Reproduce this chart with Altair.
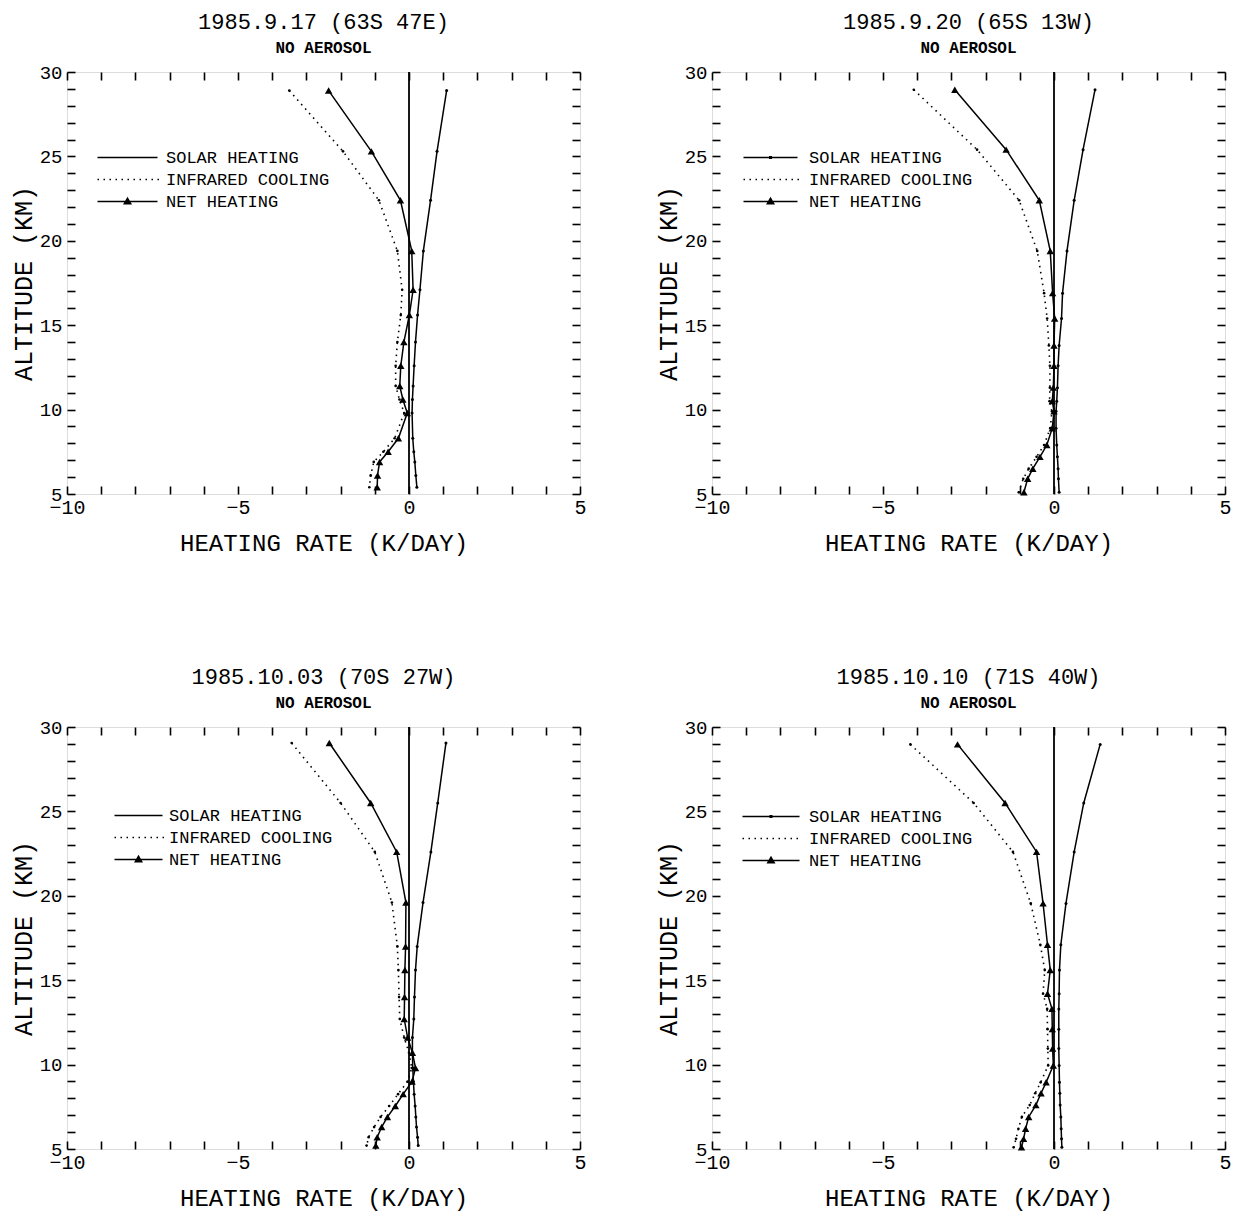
import altair as alt
import pandas as pd

FONT = "Liberation Mono"

titles = ["1985.9.17  (63S 47E)", "1985.9.20  (65S 13W)",
          "1985.10.03  (70S 27W)", "1985.10.10  (71S 40W)"]
subtitle = "NO AEROSOL"
series_names = ["SOLAR HEATING", "INFRARED COOLING", "NET HEATING"]
x_title = "HEATING RATE (K/DAY)"
y_title = "ALTITUDE  (KM)"
x_ticks = list(range(-10, 6))
y_ticks = list(range(5, 31))
zero_line = [0.0]

# Panel 1: 1985.9.17
alt1 = [28.9, 25.3, 22.4, 19.4, 17.1, 15.6, 14.0, 12.6, 11.4, 10.6, 9.8, 8.3, 7.5, 6.9, 6.1, 5.4]
solar1 = [1.10, 0.82, 0.63, 0.42, 0.32, 0.25, 0.19, 0.15, 0.12, 0.10, 0.09, 0.11, 0.14, 0.17, 0.20, 0.23]
ir1 = [-3.50, -1.93, -0.88, -0.34, -0.20, -0.24, -0.34, -0.39, -0.39, -0.28, -0.14, -0.42, -0.75, -1.03, -1.12, -1.16]
net1 = [-2.35, -1.10, -0.25, 0.08, 0.12, 0.01, -0.15, -0.24, -0.27, -0.18, -0.05, -0.31, -0.61, -0.86, -0.92, -0.93]

# Panel 2: 1985.9.20
alt2 = [28.95, 25.4, 22.4, 19.4, 16.9, 15.4, 13.8, 12.6, 11.3, 10.5, 9.9, 8.9, 7.9, 7.2, 6.5, 5.9, 5.1]
solar2 = [1.20, 0.85, 0.59, 0.38, 0.25, 0.22, 0.15, 0.12, 0.10, 0.08, 0.06, 0.06, 0.08, 0.10, 0.12, 0.13, 0.15]
ir2 = [-4.10, -2.25, -1.02, -0.49, -0.29, -0.20, -0.15, -0.12, -0.12, -0.13, -0.06, -0.11, -0.29, -0.51, -0.74, -0.90, -1.03]
net2 = [-2.90, -1.40, -0.43, -0.11, -0.04, 0.02, 0.00, 0.00, -0.02, -0.05, 0.00, -0.05, -0.21, -0.41, -0.62, -0.77, -0.88]

# Panel 3: 1985.10.03
alt3 = [29.05, 25.5, 22.6, 19.6, 17.0, 15.6, 14.0, 12.7, 11.6, 10.7, 9.8, 9.0, 8.25, 7.55, 6.9, 6.3, 5.7, 5.2]
solar3 = [1.08, 0.84, 0.64, 0.41, 0.24, 0.19, 0.16, 0.14, 0.10, 0.10, 0.11, 0.13, 0.15, 0.18, 0.20, 0.22, 0.25, 0.27]
ir3 = [-3.43, -2.00, -1.00, -0.50, -0.34, -0.31, -0.29, -0.27, -0.14, 0.00, 0.08, -0.04, -0.32, -0.58, -0.83, -1.02, -1.18, -1.24]
net3 = [-2.33, -1.12, -0.36, -0.09, -0.10, -0.12, -0.13, -0.14, -0.04, 0.10, 0.19, 0.09, -0.17, -0.40, -0.63, -0.80, -0.93, -0.97]

# Panel 4: 1985.10.10
alt4 = [28.97, 25.5, 22.6, 19.55, 17.1, 15.6, 14.2, 13.3, 12.1, 10.95, 9.95, 8.95, 8.3, 7.6, 6.9, 6.2, 5.6, 5.1]
solar4 = [1.35, 0.87, 0.59, 0.35, 0.20, 0.16, 0.15, 0.14, 0.14, 0.14, 0.15, 0.16, 0.17, 0.18, 0.20, 0.21, 0.22, 0.23]
ir4 = [-4.20, -2.35, -1.20, -0.68, -0.40, -0.27, -0.32, -0.20, -0.19, -0.18, -0.17, -0.39, -0.55, -0.71, -0.94, -1.04, -1.11, -1.18]
net4 = [-2.82, -1.43, -0.51, -0.32, -0.19, -0.11, -0.19, -0.06, -0.05, -0.04, -0.02, -0.23, -0.38, -0.53, -0.74, -0.83, -0.89, -0.95]

W, H = 513, 422


def legend_paths(length, dot):
    # legend keys as filled SVG symbol paths (unit = 3 px at symbolSize 36)
    line = f"M-1,-0.25H{length}V0.25H-1Z"
    mid = (length - 1) / 2
    solar = line + (f"M{mid-0.5},-0.5H{mid+0.5}V0.5H{mid-0.5}Z" if dot else "")
    dots = "".join(f"M{x:.2f},-0.25h0.5v0.5h-0.5Z"
                   for x in [(-1 + 2 * i) for i in range(int((length + 1) / 2) + 1)])
    net = line + f"M{mid-1.5},1L{mid},-1.6L{mid+1.5},1Z"
    return [solar, dots, net]


def panel(title, alts, solar, ir, net, lx, ly, length, dot, loff):
    df = pd.DataFrame({"idx": list(range(len(alts))), "alt": alts,
                       "solar": solar, "ir": ir, "net": net})
    xs = alt.Scale(domain=[-10, 5], nice=False, zero=False)
    ys = alt.Scale(domain=[5, 30], nice=False, zero=False)
    common = dict(offset=-8, tickSize=8, tickWidth=1.6, tickColor="black",
                  domain=False, grid=False)
    ax_bottom = alt.Axis(orient="bottom", values=x_ticks, format="d",
                         labelExpr="datum.value % 5 == 0 ? datum.label : ''",
                         title=x_title, labelFont=FONT, labelFontSize=20,
                         labelColor="black", labelPadding=3, labelOverlap=False,
                         labelFlush=False, titleFont=FONT, titleFontSize=24,
                         titleFontWeight="normal", titleColor="black",
                         titlePadding=14, **common)
    ax_top = alt.Axis(orient="top", values=x_ticks, labels=False, title=None, **common)
    ax_left = alt.Axis(orient="left", values=y_ticks, format="d",
                       labelExpr="datum.value % 5 == 0 ? datum.label : ''",
                       title=y_title, labelFont=FONT, labelFontSize=19,
                       labelColor="black", labelPadding=5, labelOverlap=False,
                       labelFlush=False, titleFont=FONT, titleFontSize=25,
                       titleFontWeight="normal", titleColor="black",
                       titlePadding=3, **common)
    ax_right = alt.Axis(orient="right", values=y_ticks, labels=False, title=None, **common)

    zero = alt.Chart(pd.DataFrame({"x": zero_line})).mark_rule(
        color="black", strokeWidth=1.8).encode(
        x=alt.X("x:Q", scale=xs, axis=ax_bottom))
    base = alt.Chart(df)
    solar_line = base.mark_line(color="black", strokeWidth=1.5).encode(
        x=alt.X("solar:Q", scale=xs, axis=ax_top),
        y=alt.Y("alt:Q", scale=ys, axis=ax_right), order="idx:Q")
    ir_line = base.mark_line(color="black", strokeWidth=1.6,
                             strokeDash=[1.5, 4.5]).encode(
        x=alt.X("ir:Q", scale=xs, axis=None),
        y=alt.Y("alt:Q", scale=ys, axis=None), order="idx:Q")
    net_line = base.mark_line(color="black", strokeWidth=1.5).encode(
        x=alt.X("net:Q", scale=xs, axis=None),
        y=alt.Y("alt:Q", scale=ys, axis=ax_left), order="idx:Q")
    solar_pts = base.mark_point(filled=True, color="black", size=9,
                                shape="circle", opacity=1).encode(
        x=alt.X("solar:Q", scale=xs, axis=None),
        y=alt.Y("alt:Q", scale=ys, axis=None))
    ir_pts = base.mark_point(filled=True, color="black", size=7,
                             shape="circle", opacity=1).encode(
        x=alt.X("ir:Q", scale=xs, axis=None),
        y=alt.Y("alt:Q", scale=ys, axis=None))
    net_pts = base.mark_point(filled=True, color="black", size=55,
                              shape="triangle-up", opacity=1).encode(
        x=alt.X("net:Q", scale=xs, axis=None),
        y=alt.Y("alt:Q", scale=ys, axis=None))
    legend_layer = alt.Chart(pd.DataFrame({"series": pd.Series([], dtype=str)})).mark_point(
        filled=True, color="black", opacity=1).encode(
        shape=alt.Shape("series:N",
                        scale=alt.Scale(domain=series_names,
                                        range=legend_paths(length, dot)),
                        legend=alt.Legend(orient="none", legendX=lx, legendY=ly,
                                          title=None, symbolSize=36,
                                          symbolFillColor="black",
                                          symbolOpacity=1,
                                          labelFont=FONT, labelFontSize=17,
                                          labelColor="black", labelLimit=0,
                                          labelOffset=loff, rowPadding=4,
                                          padding=0)))
    return alt.layer(zero, solar_line, ir_line, net_line, solar_pts, ir_pts,
                     net_pts, legend_layer).resolve_axis(
        x="independent", y="independent").properties(
        width=W, height=H,
        title=alt.TitleParams(text=title, subtitle=subtitle, font=FONT,
                              fontSize=22, fontWeight="normal", color="black",
                              subtitleFont=FONT, subtitleFontSize=16,
                              subtitleFontWeight="bold", subtitleColor="black",
                              subtitlePadding=6, anchor="middle", frame="group",
                              offset=6))


p1 = panel(titles[0], alt1, solar1, ir1, net1, 25, 77, 19, False, 57)
p2 = panel(titles[1], alt2, solar2, ir2, net2, 26, 77, 17, True, 54)
p3 = panel(titles[2], alt3, solar3, ir3, net3, 42, 80, 15, False, 43)
p4 = panel(titles[3], alt4, solar4, ir4, net4, 25, 81, 18, True, 55)

row1 = alt.hconcat(p1, p2, spacing=68).resolve_scale(shape="independent")
row2 = alt.hconcat(p3, p4, spacing=68).resolve_scale(shape="independent")
chart = alt.vconcat(row1, row2, spacing=109).resolve_scale(
    shape="independent").properties(padding=2).configure_view(
    stroke="black", strokeWidth=2).configure(background="white")

chart.save("out.html", embed_options={"renderer": "svg", "actions": False})
